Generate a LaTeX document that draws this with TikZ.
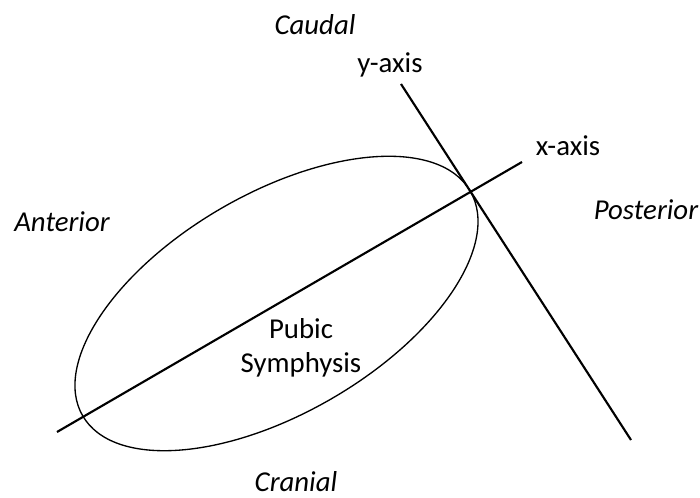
\documentclass[tikz,border=0pt]{standalone}
\usepackage{fontspec}
\setmainfont{Carlito}

\begin{document}
\begin{tikzpicture}[x=0.75pt, y=-0.75pt,
    every node/.style={font=\fontsize{21.6}{25.6}\selectfont, inner sep=0pt, anchor=base},
    axisline/.style={line width=1.6pt},
    sidelabel/.style={font=\fontsize{21.6}{25.6}\selectfont\itshape}]
      \useasboundingbox (0,0) rectangle (700,498);
      % symphysis outline
      \coordinate (centre) at (276.5,303.5);
      \draw[line width=1pt, rotate around={30.1:(centre)}] (centre) ellipse (224 and 110);
      % x-axis along the long side
      \coordinate (xstart) at (57,432);
      \coordinate (xend) at (522,162);
      \draw[axisline] (xstart) -- (xend);
      \node (xlabel) at (568,156) {x-axis};
      % y-axis through the top end
      \coordinate (ystart) at (401,84);
      \coordinate (yend) at (631,440);
      \draw[axisline] (ystart) -- (yend);
      \node (ylabel) at (390,73) {y-axis};
      % label inside
      \node[align=center, anchor=center] (pubic) at (301,348) {Pubic\\Symphysis};
      % directions
      \node[sidelabel] (caudal) at (315,35) {Caudal};
      \node[sidelabel] (cranial) at (296,492) {Cranial};
      \node[sidelabel] (anterior) at (62,232) {Anterior};
      \node[sidelabel] (posterior) at (646,220) {Posterior};
\end{tikzpicture}
\end{document}
